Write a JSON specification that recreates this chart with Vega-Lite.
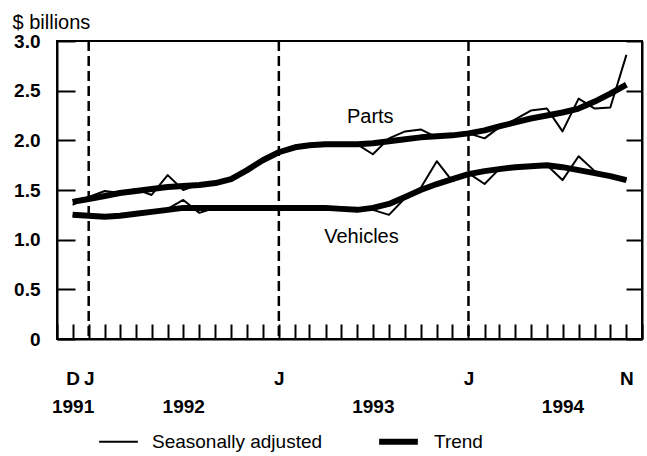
{
  "$schema": "https://vega.github.io/schema/vega-lite/v6.json",
  "width": 585,
  "height": 298,
  "autosize": "none",
  "padding": {"left": 57, "top": 41, "right": 5, "bottom": 117},
  "background": "white",
  "config": {
    "view": {"stroke": "black", "strokeWidth": 2},
    "font": "Liberation Sans",
    "axis": {"grid": false, "domainColor": "black", "tickColor": "black", "labelColor": "black", "titleColor": "black", "domainWidth": 2, "tickWidth": 2}
  },
  "datasets": {
    "jan": [{"date": "1992-01-01"}, {"date": "1993-01-01"}, {"date": "1994-01-01"}],
    "labels": [{"date": "1993-06-26", "value": 2.23, "label": "Parts"}, {"date": "1993-06-09", "value": 1.03, "label": "Vehicles"}],
    "series": [
      {"date":"1991-12-01","series":"Parts","kind":"Trend","value":1.38},
      {"date":"1992-01-01","series":"Parts","kind":"Trend","value":1.41},
      {"date":"1992-02-01","series":"Parts","kind":"Trend","value":1.44},
      {"date":"1992-03-01","series":"Parts","kind":"Trend","value":1.47},
      {"date":"1992-04-01","series":"Parts","kind":"Trend","value":1.49},
      {"date":"1992-05-01","series":"Parts","kind":"Trend","value":1.51},
      {"date":"1992-06-01","series":"Parts","kind":"Trend","value":1.53},
      {"date":"1992-07-01","series":"Parts","kind":"Trend","value":1.54},
      {"date":"1992-08-01","series":"Parts","kind":"Trend","value":1.55},
      {"date":"1992-09-01","series":"Parts","kind":"Trend","value":1.57},
      {"date":"1992-10-01","series":"Parts","kind":"Trend","value":1.61},
      {"date":"1992-11-01","series":"Parts","kind":"Trend","value":1.70},
      {"date":"1992-12-01","series":"Parts","kind":"Trend","value":1.80},
      {"date":"1993-01-01","series":"Parts","kind":"Trend","value":1.88},
      {"date":"1993-02-01","series":"Parts","kind":"Trend","value":1.93},
      {"date":"1993-03-01","series":"Parts","kind":"Trend","value":1.95},
      {"date":"1993-04-01","series":"Parts","kind":"Trend","value":1.96},
      {"date":"1993-05-01","series":"Parts","kind":"Trend","value":1.96},
      {"date":"1993-06-01","series":"Parts","kind":"Trend","value":1.96},
      {"date":"1993-07-01","series":"Parts","kind":"Trend","value":1.97},
      {"date":"1993-08-01","series":"Parts","kind":"Trend","value":1.99},
      {"date":"1993-09-01","series":"Parts","kind":"Trend","value":2.01},
      {"date":"1993-10-01","series":"Parts","kind":"Trend","value":2.03},
      {"date":"1993-11-01","series":"Parts","kind":"Trend","value":2.04},
      {"date":"1993-12-01","series":"Parts","kind":"Trend","value":2.05},
      {"date":"1994-01-01","series":"Parts","kind":"Trend","value":2.07},
      {"date":"1994-02-01","series":"Parts","kind":"Trend","value":2.10},
      {"date":"1994-03-01","series":"Parts","kind":"Trend","value":2.14},
      {"date":"1994-04-01","series":"Parts","kind":"Trend","value":2.18},
      {"date":"1994-05-01","series":"Parts","kind":"Trend","value":2.22},
      {"date":"1994-06-01","series":"Parts","kind":"Trend","value":2.25},
      {"date":"1994-07-01","series":"Parts","kind":"Trend","value":2.28},
      {"date":"1994-08-01","series":"Parts","kind":"Trend","value":2.32},
      {"date":"1994-09-01","series":"Parts","kind":"Trend","value":2.39},
      {"date":"1994-10-01","series":"Parts","kind":"Trend","value":2.47},
      {"date":"1994-11-01","series":"Parts","kind":"Trend","value":2.56},
      {"date":"1991-12-01","series":"Parts","kind":"Seasonally adjusted","value":1.35},
      {"date":"1992-01-01","series":"Parts","kind":"Seasonally adjusted","value":1.43},
      {"date":"1992-02-01","series":"Parts","kind":"Seasonally adjusted","value":1.49},
      {"date":"1992-03-01","series":"Parts","kind":"Seasonally adjusted","value":1.47},
      {"date":"1992-04-01","series":"Parts","kind":"Seasonally adjusted","value":1.51},
      {"date":"1992-05-01","series":"Parts","kind":"Seasonally adjusted","value":1.45},
      {"date":"1992-06-01","series":"Parts","kind":"Seasonally adjusted","value":1.65},
      {"date":"1992-07-01","series":"Parts","kind":"Seasonally adjusted","value":1.50},
      {"date":"1992-08-01","series":"Parts","kind":"Seasonally adjusted","value":1.56},
      {"date":"1992-09-01","series":"Parts","kind":"Seasonally adjusted","value":1.58},
      {"date":"1992-10-01","series":"Parts","kind":"Seasonally adjusted","value":1.60},
      {"date":"1992-11-01","series":"Parts","kind":"Seasonally adjusted","value":1.70},
      {"date":"1992-12-01","series":"Parts","kind":"Seasonally adjusted","value":1.80},
      {"date":"1993-01-01","series":"Parts","kind":"Seasonally adjusted","value":1.88},
      {"date":"1993-02-01","series":"Parts","kind":"Seasonally adjusted","value":1.94},
      {"date":"1993-03-01","series":"Parts","kind":"Seasonally adjusted","value":1.96},
      {"date":"1993-04-01","series":"Parts","kind":"Seasonally adjusted","value":1.97},
      {"date":"1993-05-01","series":"Parts","kind":"Seasonally adjusted","value":1.96},
      {"date":"1993-06-01","series":"Parts","kind":"Seasonally adjusted","value":1.96},
      {"date":"1993-07-01","series":"Parts","kind":"Seasonally adjusted","value":1.86},
      {"date":"1993-08-01","series":"Parts","kind":"Seasonally adjusted","value":2.02},
      {"date":"1993-09-01","series":"Parts","kind":"Seasonally adjusted","value":2.09},
      {"date":"1993-10-01","series":"Parts","kind":"Seasonally adjusted","value":2.11},
      {"date":"1993-11-01","series":"Parts","kind":"Seasonally adjusted","value":2.03},
      {"date":"1993-12-01","series":"Parts","kind":"Seasonally adjusted","value":2.04},
      {"date":"1994-01-01","series":"Parts","kind":"Seasonally adjusted","value":2.07},
      {"date":"1994-02-01","series":"Parts","kind":"Seasonally adjusted","value":2.02},
      {"date":"1994-03-01","series":"Parts","kind":"Seasonally adjusted","value":2.13},
      {"date":"1994-04-01","series":"Parts","kind":"Seasonally adjusted","value":2.21},
      {"date":"1994-05-01","series":"Parts","kind":"Seasonally adjusted","value":2.30},
      {"date":"1994-06-01","series":"Parts","kind":"Seasonally adjusted","value":2.32},
      {"date":"1994-07-01","series":"Parts","kind":"Seasonally adjusted","value":2.09},
      {"date":"1994-08-01","series":"Parts","kind":"Seasonally adjusted","value":2.42},
      {"date":"1994-09-01","series":"Parts","kind":"Seasonally adjusted","value":2.32},
      {"date":"1994-10-01","series":"Parts","kind":"Seasonally adjusted","value":2.33},
      {"date":"1994-11-01","series":"Parts","kind":"Seasonally adjusted","value":2.86},
      {"date":"1991-12-01","series":"Vehicles","kind":"Trend","value":1.25},
      {"date":"1992-01-01","series":"Vehicles","kind":"Trend","value":1.24},
      {"date":"1992-02-01","series":"Vehicles","kind":"Trend","value":1.23},
      {"date":"1992-03-01","series":"Vehicles","kind":"Trend","value":1.24},
      {"date":"1992-04-01","series":"Vehicles","kind":"Trend","value":1.26},
      {"date":"1992-05-01","series":"Vehicles","kind":"Trend","value":1.28},
      {"date":"1992-06-01","series":"Vehicles","kind":"Trend","value":1.30},
      {"date":"1992-07-01","series":"Vehicles","kind":"Trend","value":1.32},
      {"date":"1992-08-01","series":"Vehicles","kind":"Trend","value":1.32},
      {"date":"1992-09-01","series":"Vehicles","kind":"Trend","value":1.32},
      {"date":"1992-10-01","series":"Vehicles","kind":"Trend","value":1.32},
      {"date":"1992-11-01","series":"Vehicles","kind":"Trend","value":1.32},
      {"date":"1992-12-01","series":"Vehicles","kind":"Trend","value":1.32},
      {"date":"1993-01-01","series":"Vehicles","kind":"Trend","value":1.32},
      {"date":"1993-02-01","series":"Vehicles","kind":"Trend","value":1.32},
      {"date":"1993-03-01","series":"Vehicles","kind":"Trend","value":1.32},
      {"date":"1993-04-01","series":"Vehicles","kind":"Trend","value":1.32},
      {"date":"1993-05-01","series":"Vehicles","kind":"Trend","value":1.31},
      {"date":"1993-06-01","series":"Vehicles","kind":"Trend","value":1.30},
      {"date":"1993-07-01","series":"Vehicles","kind":"Trend","value":1.32},
      {"date":"1993-08-01","series":"Vehicles","kind":"Trend","value":1.36},
      {"date":"1993-09-01","series":"Vehicles","kind":"Trend","value":1.43},
      {"date":"1993-10-01","series":"Vehicles","kind":"Trend","value":1.50},
      {"date":"1993-11-01","series":"Vehicles","kind":"Trend","value":1.56},
      {"date":"1993-12-01","series":"Vehicles","kind":"Trend","value":1.61},
      {"date":"1994-01-01","series":"Vehicles","kind":"Trend","value":1.66},
      {"date":"1994-02-01","series":"Vehicles","kind":"Trend","value":1.69},
      {"date":"1994-03-01","series":"Vehicles","kind":"Trend","value":1.71},
      {"date":"1994-04-01","series":"Vehicles","kind":"Trend","value":1.73},
      {"date":"1994-05-01","series":"Vehicles","kind":"Trend","value":1.74},
      {"date":"1994-06-01","series":"Vehicles","kind":"Trend","value":1.75},
      {"date":"1994-07-01","series":"Vehicles","kind":"Trend","value":1.73},
      {"date":"1994-08-01","series":"Vehicles","kind":"Trend","value":1.70},
      {"date":"1994-09-01","series":"Vehicles","kind":"Trend","value":1.67},
      {"date":"1994-10-01","series":"Vehicles","kind":"Trend","value":1.64},
      {"date":"1994-11-01","series":"Vehicles","kind":"Trend","value":1.60},
      {"date":"1991-12-01","series":"Vehicles","kind":"Seasonally adjusted","value":1.24},
      {"date":"1992-01-01","series":"Vehicles","kind":"Seasonally adjusted","value":1.25},
      {"date":"1992-02-01","series":"Vehicles","kind":"Seasonally adjusted","value":1.24},
      {"date":"1992-03-01","series":"Vehicles","kind":"Seasonally adjusted","value":1.24},
      {"date":"1992-04-01","series":"Vehicles","kind":"Seasonally adjusted","value":1.27},
      {"date":"1992-05-01","series":"Vehicles","kind":"Seasonally adjusted","value":1.29},
      {"date":"1992-06-01","series":"Vehicles","kind":"Seasonally adjusted","value":1.31},
      {"date":"1992-07-01","series":"Vehicles","kind":"Seasonally adjusted","value":1.40},
      {"date":"1992-08-01","series":"Vehicles","kind":"Seasonally adjusted","value":1.27},
      {"date":"1992-09-01","series":"Vehicles","kind":"Seasonally adjusted","value":1.32},
      {"date":"1992-10-01","series":"Vehicles","kind":"Seasonally adjusted","value":1.32},
      {"date":"1992-11-01","series":"Vehicles","kind":"Seasonally adjusted","value":1.32},
      {"date":"1992-12-01","series":"Vehicles","kind":"Seasonally adjusted","value":1.32},
      {"date":"1993-01-01","series":"Vehicles","kind":"Seasonally adjusted","value":1.33},
      {"date":"1993-02-01","series":"Vehicles","kind":"Seasonally adjusted","value":1.32},
      {"date":"1993-03-01","series":"Vehicles","kind":"Seasonally adjusted","value":1.33},
      {"date":"1993-04-01","series":"Vehicles","kind":"Seasonally adjusted","value":1.32},
      {"date":"1993-05-01","series":"Vehicles","kind":"Seasonally adjusted","value":1.33},
      {"date":"1993-06-01","series":"Vehicles","kind":"Seasonally adjusted","value":1.30},
      {"date":"1993-07-01","series":"Vehicles","kind":"Seasonally adjusted","value":1.30},
      {"date":"1993-08-01","series":"Vehicles","kind":"Seasonally adjusted","value":1.25},
      {"date":"1993-09-01","series":"Vehicles","kind":"Seasonally adjusted","value":1.42},
      {"date":"1993-10-01","series":"Vehicles","kind":"Seasonally adjusted","value":1.52},
      {"date":"1993-11-01","series":"Vehicles","kind":"Seasonally adjusted","value":1.79},
      {"date":"1993-12-01","series":"Vehicles","kind":"Seasonally adjusted","value":1.59},
      {"date":"1994-01-01","series":"Vehicles","kind":"Seasonally adjusted","value":1.67},
      {"date":"1994-02-01","series":"Vehicles","kind":"Seasonally adjusted","value":1.56},
      {"date":"1994-03-01","series":"Vehicles","kind":"Seasonally adjusted","value":1.71},
      {"date":"1994-04-01","series":"Vehicles","kind":"Seasonally adjusted","value":1.73},
      {"date":"1994-05-01","series":"Vehicles","kind":"Seasonally adjusted","value":1.74},
      {"date":"1994-06-01","series":"Vehicles","kind":"Seasonally adjusted","value":1.75},
      {"date":"1994-07-01","series":"Vehicles","kind":"Seasonally adjusted","value":1.60},
      {"date":"1994-08-01","series":"Vehicles","kind":"Seasonally adjusted","value":1.84},
      {"date":"1994-09-01","series":"Vehicles","kind":"Seasonally adjusted","value":1.69},
      {"date":"1994-10-01","series":"Vehicles","kind":"Seasonally adjusted","value":1.64},
      {"date":"1994-11-01","series":"Vehicles","kind":"Seasonally adjusted","value":1.60}
    ]
  },
  "encoding": {
    "x": {
      "field": "date",
      "type": "temporal",
      "scale": {"type": "utc", "nice": false, "domain": [{"year": 1991, "month": 11, "date": 1, "utc": true}, {"year": 1994, "month": 12, "date": 1, "utc": true}]},
      "axis": {
        "orient": "bottom",
        "title": null,
        "tickCount": {"interval": "month", "step": 1},
        "tickSize": -15,
        "labelPadding": 45,
        "labelFontSize": 19,
        "labelFontWeight": "bold",
        "labelLineHeight": 28,
        "labelOverlap": false,
        "labelFlush": false,
        "labelBound": false,
        "labelExpr": "(utcyear(datum.value) == 1991 && utcmonth(datum.value) == 11) ? ['D', '1991'] : utcmonth(datum.value) == 0 ? 'J' : utcmonth(datum.value) == 6 ? ['', '' + utcyear(datum.value)] : (utcyear(datum.value) == 1994 && utcmonth(datum.value) == 10) ? 'N' : ''"
      }
    }
  },
  "layer": [
    {
      "data": {"name": "jan"},
      "mark": {"type": "rule", "color": "black", "strokeWidth": 2.5, "strokeDash": [10, 5]},
      "encoding": {}
    },
    {
      "data": {"name": "series"},
      "mark": {"type": "line", "color": "black", "strokeJoin": "round"},
      "encoding": {
        "y": {
          "field": "value",
          "type": "quantitative",
          "scale": {"domain": [0, 3], "nice": false, "zero": false},
          "axis": {
            "orient": "left",
            "values": [0, 0.5, 1, 1.5, 2, 2.5, 3],
            "tickSize": -18,
            "labelPadding": 35,
            "labelFontSize": 19,
            "labelFontWeight": "bold",
            "labelExpr": "datum.value == 0 ? '0' : format(datum.value, '.1f')",
            "title": "$ billions",
            "titleAngle": 0,
            "titleAlign": "left",
            "titleBaseline": "alphabetic",
            "titleX": -45,
            "titleY": -13,
            "titleFontSize": 20,
            "titleFontWeight": "normal"
          }
        },
        "strokeWidth": {
          "field": "kind",
          "type": "ordinal",
          "scale": {"domain": ["Seasonally adjusted", "Trend"], "range": [2, 6]},
          "legend": {
            "orient": "none",
            "legendX": 41,
            "legendY": 378,
            "direction": "horizontal",
            "title": null,
            "symbolType": "stroke",
            "symbolSize": 1500,
            "symbolStrokeColor": "black",
            "labelFontSize": 19,
            "labelColor": "black",
            "labelLimit": 0,
            "labelOffset": 13,
            "columnPadding": 44,
            "padding": 0
          }
        },
        "detail": [{"field": "series"}, {"field": "kind"}]
      }
    },
    {
      "data": {"name": "labels"},
      "mark": {"type": "text", "fontSize": 20, "color": "black", "align": "center", "baseline": "middle"},
      "encoding": {
        "y": {
          "field": "value",
          "type": "quantitative",
          "axis": {"orient": "right", "values": [0, 0.5, 1, 1.5, 2, 2.5, 3], "tickSize": -16, "labels": false, "title": null}
        },
        "text": {"field": "label"}
      }
    }
  ],
  "resolve": {"axis": {"y": "independent"}}
}
